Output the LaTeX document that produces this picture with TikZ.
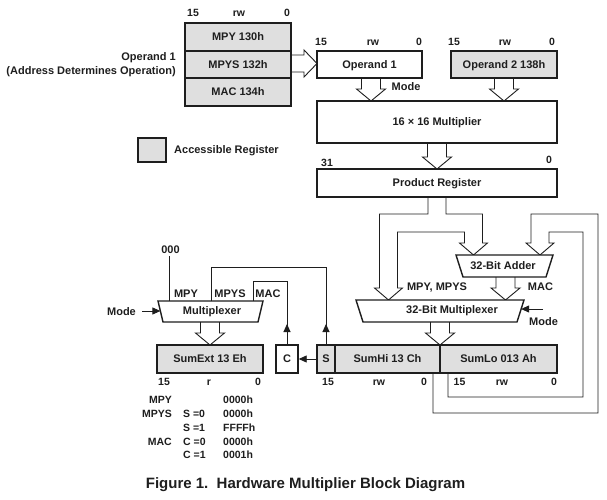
\documentclass[tikz,border=0pt]{standalone}
\usepackage{fontspec}
\setmainfont{Liberation Sans}
\usetikzlibrary{arrows.meta}
\definecolor{regfill}{RGB}{223,223,223}
\definecolor{ink}{RGB}{30,30,30}
\newcommand{\hdown}[3]{%
  \draw[fat] (#1-9.5,#2) -- (#1-9.5,#3-12) -- (#1-14.5,#3-12) -- (#1,#3) -- (#1+14.5,#3-12) -- (#1+9.5,#3-12) -- (#1+9.5,#2);}
\begin{document}
\begin{tikzpicture}[x=1pt,y=-1pt,line join=miter,
  box/.style={draw=ink,line width=1.4pt,inner sep=0pt,text=ink,font=\fontsize{11}{13}\selectfont\bfseries,text height=7.9pt,text depth=0pt},
  reg/.style={box,fill=regfill},
  lbl/.style={inner sep=0pt,text=ink,font=\fontsize{11}{13}\selectfont\bfseries,text height=7.9pt,text depth=0pt},
  bit/.style={inner sep=0pt,text=ink,font=\fontsize{10.5}{12}\selectfont\bfseries,text height=7.5pt,text depth=0pt},
  wire/.style={draw=ink,line width=0.9pt},
  fat/.style={draw=ink,line width=0.9pt},
  headarrow/.style={-{Triangle[length=8pt,width=7pt]}},
  trap/.style={draw=ink,line width=1.4pt,fill=white}
]
\fill[white] (0,0) rectangle (607,500);
\useasboundingbox (0,0) rectangle (607,500);

% ---------- top-left operand stack ----------
\node[bit] (s15) at (193,13) {15};
\node[bit] (srw) at (239,13) {rw};
\node[bit] (s0) at (287,13) {0};
\node[reg,minimum width=106pt,minimum height=28pt] (mpy) at (238,37) {MPY 130h};
\node[reg,minimum width=106pt,minimum height=27pt] (mpys) at (238,64.5) {MPYS 132h};
\node[reg,minimum width=106pt,minimum height=28pt] (mac) at (238,92) {MAC 134h};
\node[lbl,anchor=east] (op1lbl) at (176,57) {Operand 1};
\node[lbl,anchor=east] (addrlbl) at (176,71) {(Address Determines Operation)};

% legend
\node[reg,minimum width=28pt,minimum height=24pt] (legbox) at (152,150) {};
\node[lbl,anchor=west] (legtxt) at (174,150) {Accessible Register};

% ---------- operands ----------
\node[bit] (o1a) at (321,42) {15};
\node[bit] (o1b) at (373,42) {rw};
\node[bit] (o1c) at (419,42) {0};
\node[box,fill=white,minimum width=105pt,minimum height=27pt] (op1) at (369.5,64.5) {Operand 1};
\node[bit] (o2a) at (454,42) {15};
\node[bit] (o2b) at (505,42) {rw};
\node[bit] (o2c) at (552,42) {0};
\node[reg,minimum width=106pt,minimum height=27pt] (op2) at (504,64.5) {Operand 2 138h};

% stack -> operand 1
\draw[fat] (292,55) -- (304,55) -- (304,50) -- (317,63.5) -- (304,77) -- (304,72) -- (292,72);

\node[lbl] (mode1) at (406,87) {Mode};
\node[box,fill=white,minimum width=240pt,minimum height=42pt] (mult) at (437,122) {16 × 16 Multiplier};
\hdown{371}{78}{101}
\hdown{504}{78}{101}

\node[bit] (p31) at (327,163) {31};
\node[bit] (p0) at (549,160) {0};
\node[box,fill=white,minimum width=240pt,minimum height=28pt] (prod) at (437,183) {Product Register};
\hdown{437}{143}{169}

% product split to multiplexer and adder
\draw[fat] (428,197) -- (428,214) -- (379.5,214) -- (379.5,288) -- (374.5,288) -- (388.5,300) -- (402.5,288) -- (397.5,288)
  -- (397.5,232) -- (464.5,232) -- (464.5,243) -- (459.5,243) -- (473.5,255) -- (487.5,243) -- (482.5,243)
  -- (482.5,214) -- (446,214) -- (446,197);

% feedback from sum registers to adder
\draw[fat] (433,373) -- (433,413) -- (598,413) -- (598,214) -- (531,214) -- (531,243) -- (526,243) -- (540,255)
  -- (554,243) -- (549,243) -- (549,232) -- (583,232) -- (583,397) -- (448,397) -- (448,373);

% adder
\draw[trap] (456,255) -- (553,255) -- (546,277) -- (463,277) -- cycle;
\node[lbl] (adder) at (503,266) {32-Bit Adder};
\hdown{505.5}{277}{300}
\node[lbl] (mpymps) at (437,287) {MPY, MPYS};
\node[lbl] (maclbl) at (540.5,287) {MAC};

% 32-bit multiplexer
\draw[trap] (356,300) -- (524,300) -- (517,322) -- (363,322) -- cycle;
\node[lbl] (mux32) at (452,310) {32-Bit Multiplexer};
\coordinate (mode2start) at (543,309);
\coordinate (mode2tip) at (521.1,309);
\draw[wire,headarrow] (mode2start) -- (mode2tip);
\node[lbl] (mode2) at (543.5,322) {Mode};
\hdown{440}{322}{345}

% sum registers
\node[reg,minimum width=18pt,minimum height=28pt] (S) at (326,359) {S};
\node[reg,minimum width=105pt,minimum height=28pt] (sumhi) at (387.5,359) {SumHi 13 Ch};
\node[reg,minimum width=117pt,minimum height=28pt] (sumlo) at (498.5,359) {SumLo 013 Ah};
\node[bit] (h15) at (328,382) {15};
\node[bit] (hrw) at (379,382) {rw};
\node[bit] (h0) at (424,382) {0};
\node[bit] (l15) at (459.5,382) {15};
\node[bit] (lrw) at (502,382) {rw};
\node[bit] (l0) at (554,382) {0};

% C flag
\node[box,fill=white,minimum width=22pt,minimum height=28pt] (C) at (287,359) {C};
\draw[wire,headarrow] (S.west) -- (C.east);

% left multiplexer
\draw[trap] (158,301) -- (263,301) -- (258,322) -- (163,322) -- cycle;
\node[lbl] (mux16) at (212,311) {Multiplexer};
\node[lbl] (mpyin) at (186,294) {MPY};
\node[lbl] (mpysin) at (230,294) {MPYS};
\node[lbl] (macin) at (268,294) {MAC};
\node[lbl] (zero) at (170.5,250) {000};
\coordinate (zerotop) at (169,256);
\coordinate (zerobot) at (169,301);
\draw[wire] (zerotop) -- (zerobot);
\coordinate (sturn) at (326,267);
\coordinate (sin) at (211,301);
\draw[wire] (S.north) -- (sturn) -| (sin);
\draw[wire,headarrow] (S.north) -- (326,324);
\coordinate (cturn) at (287,281);
\coordinate (cin) at (253,301);
\draw[wire] (C.north) -- (cturn) -| (cin);
\draw[wire,headarrow] (C.north) -- (287,324);
\node[lbl] (mode3) at (121.5,312) {Mode};
\coordinate (mode3start) at (142,311);
\coordinate (mode3tip) at (160.4,311);
\draw[wire,headarrow] (mode3start) -- (mode3tip);
\hdown{210}{322}{345}

\node[reg,minimum width=106pt,minimum height=28pt] (sumext) at (210,359) {SumExt 13 Eh};
\node[bit] (e15) at (164,382) {15};
\node[bit] (er) at (209,382) {r};
\node[bit] (e0) at (258,382) {0};

% table
\node[bit,anchor=east] (t1) at (172,400) {MPY};
\node[bit,anchor=east] (t2) at (172,414) {MPYS};
\node[bit,anchor=east] (t3) at (172,442) {MAC};
\node[bit,anchor=west] (c2) at (183,414) {S =0};
\node[bit,anchor=west] (c3) at (183,428) {S =1};
\node[bit,anchor=west] (c4) at (183,442) {C =0};
\node[bit,anchor=west] (c5) at (183,455) {C =1};
\node[bit,anchor=west] (v1) at (223,400) {0000h};
\node[bit,anchor=west] (v2) at (223,414) {0000h};
\node[bit,anchor=west] (v3) at (223,428) {FFFFh};
\node[bit,anchor=west] (v4) at (223,442) {0000h};
\node[bit,anchor=west] (v5) at (223,455) {0001h};

% caption
\node[inner sep=0pt,text=ink,font=\fontsize{15}{18}\selectfont\bfseries,text height=10.7pt,text depth=0pt] (caption) at (305.5,483) {Figure 1.\ \ Hardware Multiplier Block Diagram};
\end{tikzpicture}
\end{document}
